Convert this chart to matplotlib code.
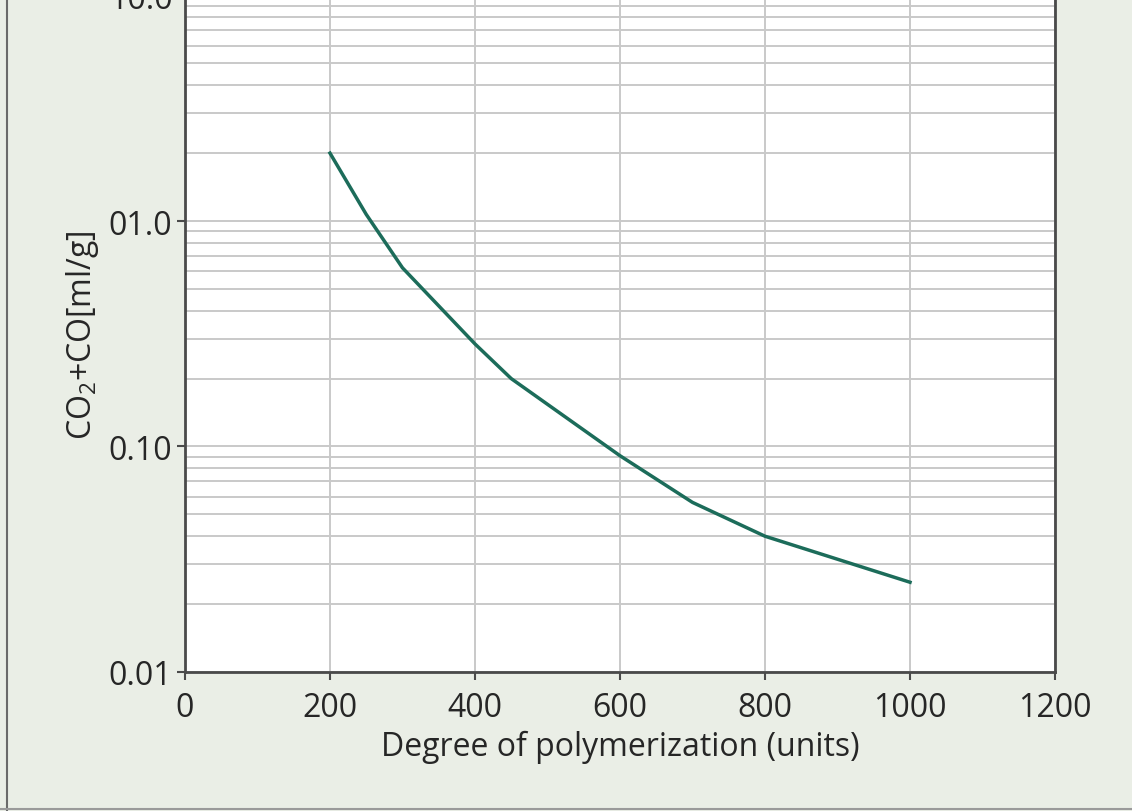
import matplotlib.pyplot as plt
from matplotlib.lines import Line2D
from matplotlib.ticker import FixedLocator, FixedFormatter, LogLocator, NullFormatter

plt.rcParams['font.family'] = ['Open Sans', 'DejaVu Sans']
plt.rcParams['mathtext.fontset'] = 'custom'
plt.rcParams['mathtext.rm'] = 'Open Sans'
plt.rcParams['mathtext.it'] = 'Open Sans'

# degree of polymerization vs. evolved CO2 + CO
dp = [200, 250, 300, 400, 450, 600, 700, 800, 1000]
gas = [2.0, 1.07, 0.62, 0.285, 0.2, 0.091, 0.0565, 0.040, 0.025]

x_ticks = [0, 200, 400, 600, 800, 1000, 1200]
y_ticks = [0.01, 0.1, 1.0, 10.0]
y_tick_labels = ['0.01', '0.10', '01.0', '10.0']

bg = '#eaeee6'
spine = '#4a4a4a'
grid = '#c9c9c9'
curve = '#1c6c5a'
txt = '#262626'

fig = plt.figure(figsize=(11.32, 8.12), dpi=100, facecolor=bg)
ax = fig.add_axes([0.1634, 0.1712, 0.7686, 0.8331])
ax.set_facecolor('white')

ax.plot(dp, gas, color=curve, lw=2.5, solid_joinstyle='round', zorder=3)

ax.set_yscale('log')
ax.set_xlim(0, 1200)
ax.set_ylim(0.01, 10)

ax.xaxis.set_major_locator(FixedLocator(x_ticks))
ax.yaxis.set_major_locator(FixedLocator(y_ticks))
ax.yaxis.set_major_formatter(FixedFormatter(y_tick_labels))
ax.yaxis.set_minor_locator(LogLocator(base=10, subs=range(2, 10)))
ax.yaxis.set_minor_formatter(NullFormatter())

ax.grid(True, which='both', axis='y', color=grid, lw=1.4)
ax.grid(True, which='major', axis='x', color=grid, lw=1.4)
ax.set_axisbelow(True)

for s in ax.spines.values():
    s.set_color(spine)
    s.set_linewidth(2)
ax.spines['top'].set_visible(False)

ax.tick_params(axis='both', which='major', direction='out', length=6, width=1.5,
               color=spine, labelsize=23, labelcolor=txt)
ax.tick_params(axis='x', which='major', pad=8)
ax.tick_params(axis='y', which='major', pad=3)
ax.tick_params(axis='y', which='minor', length=0)

ax.set_xlabel('Degree of polymerization (units)', fontsize=23, color=txt, labelpad=4)
ax.set_ylabel('CO$_2$+CO[ml/g]', fontsize=23, color=txt, labelpad=6)

# outer frame edges of the panel
fig.add_artist(Line2D([0.0062, 0.0062], [0.0, 1.0], transform=fig.transFigure,
                      color='#6a6a6a', lw=1.5))
fig.add_artist(Line2D([0.0, 1.0], [0.0025, 0.0025], transform=fig.transFigure,
                      color='#9a9a9a', lw=1.5))

fig.savefig('out.png', dpi=100, facecolor=bg)
